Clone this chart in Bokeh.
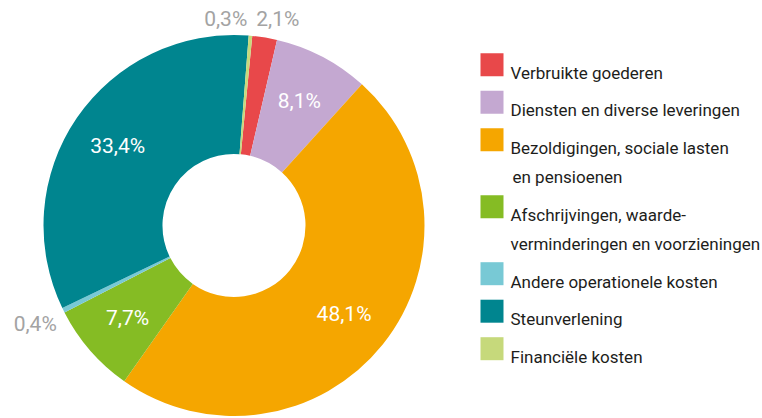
import numpy as np
from bokeh.plotting import figure
from bokeh.models import Range1d, ColumnDataSource
from bokeh.core.properties import value
from bokeh.embed import file_html
from bokeh.resources import INLINE

# ---- data ----
categories = ["Verbruikte goederen", "Diensten en diverse leveringen",
              "Bezoldigingen, sociale lasten\nen pensioenen",
              "Afschrijvingen, waarde-\nverminderingen en voorzieningen",
              "Andere operationele kosten", "Steunverlening", "Financiële kosten"]
shares = [2.1, 8.1, 48.1, 7.7, 0.4, 33.4, 0.3]
share_labels = ["2,1%", "8,1%", "48,1%", "7,7%", "0,4%", "33,4%", "0,3%"]
colors = ["#E8484A", "#C4A8D1", "#F5A600", "#85BC24", "#78C9D5", "#00858F", "#C6D97B"]

FONT = "Roboto, sans-serif"
W, H = 762, 418

p = figure(width=W, height=H, output_backend="svg", toolbar_location=None,
           x_range=Range1d(0, W), y_range=Range1d(0, H), min_border=0)
p.axis.visible = False
p.grid.visible = False
p.outline_line_color = None
p.background_fill_color = "white"
p.border_fill_color = "white"

# ---- donut ----
cx, cy = 233.5, 193.0
R_out, R_in = 190.5, 71.5
offset = np.deg2rad(5.5)
vals = np.array(shares, dtype=float)
frac = vals / vals.sum()
a1 = offset + np.cumsum(frac) * 2 * np.pi
a0 = a1 - frac * 2 * np.pi
mid = (a0 + a1) / 2

src = ColumnDataSource(dict(start=np.pi / 2 - a0, end=np.pi / 2 - a1, color=colors))
p.annular_wedge(x=cx, y=cy, inner_radius=R_in, outer_radius=R_out,
                start_angle="start", end_angle="end", direction="clock",
                fill_color="color", line_color=None, source=src)

# ---- slice labels ----
lx, ly, lt, lc, la = [], [], [], [], []
bx = cx + R_out * np.sin(offset)
for i, f in enumerate(frac):
    if f > 0.03:
        r = 0.74 * R_out
        lx.append(cx + r * np.sin(mid[i])); ly.append(cy + r * np.cos(mid[i]))
        lc.append("white"); la.append("center")
    elif np.cos(mid[i]) > 0.9:   # small slices near the top: side by side above the ring
        if mid[i] > np.pi:
            lx.append(bx - 5); la.append("right")
        else:
            lx.append(bx + 4); la.append("left")
        ly.append(cy + 1.084 * R_out)
        lc.append("#A3A3A3")
    else:
        r = 1.165 * R_out
        lx.append(cx + r * np.sin(mid[i])); ly.append(cy + r * np.cos(mid[i]))
        lc.append("#A3A3A3"); la.append("center")
    lt.append(share_labels[i])

p.text(x=lx, y=ly, text=lt, text_color=lc, text_align=la, text_baseline="middle",
       text_font=value(FONT), text_font_size=value("21px"))

# ---- legend ----
sq = 23
step = 37.5
line_h = 29.5
top = 52.7          # px from top
sx = 480
tx = 510
rx, ry, tx_l, ty_l, tt = [], [], [], [], []
y = top
for i, c in enumerate(categories):
    lines = c.split("\n")
    rx.append(sx + sq / 2); ry.append(H - (y + sq / 2))
    for k, ln in enumerate(lines):
        tx_l.append(tx + (2 if k > 0 and i == 2 else 0))
        ty_l.append(H - (y + sq - 3.5 + k * line_h))
        tt.append(ln)
    y += step + (len(lines) - 1) * line_h

p.rect(x=rx, y=ry, width=sq, height=sq, fill_color=colors, line_color=None)
p.text(x=tx_l, y=ty_l, text=tt, text_color="#1D1D1B", text_align="left",
       text_baseline="alphabetic", text_font=value(FONT), text_font_size=value("17px"))

open("out.html", "w").write(file_html(p, INLINE))
